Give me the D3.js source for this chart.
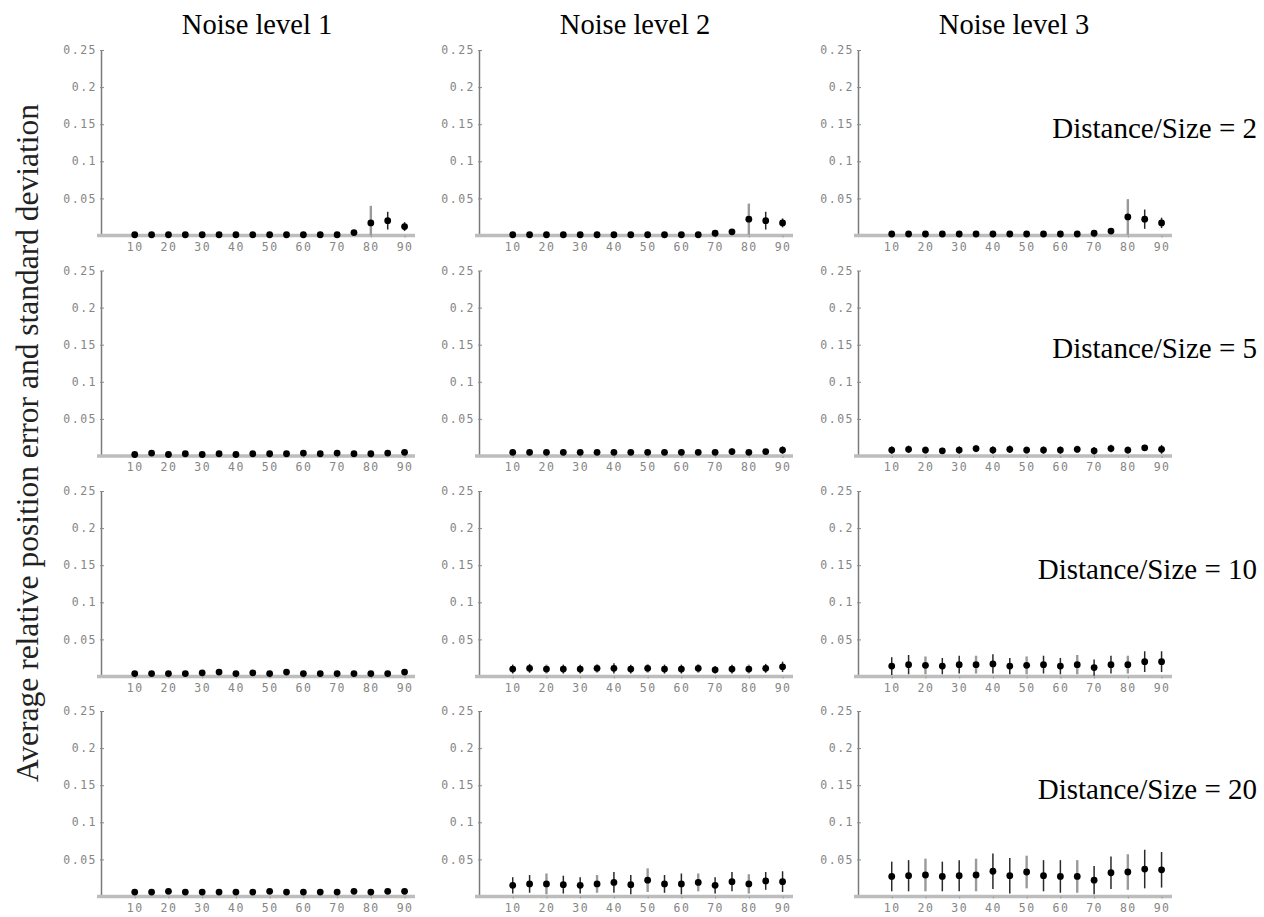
<!DOCTYPE html>
<html>
<head>
<meta charset="utf-8">
<script src="https://cdn.jsdelivr.net/npm/d3@7"></script>
<style>
  body { margin: 0; background: #fff; }
  .tick text { font-family: "DejaVu Sans Mono", monospace; fill: #858585; }
</style>
</head>
<body>
<div class="chart"></div>
<script>
// Chart labels
var noiseLabels = ["Noise level 1", "Noise level 2", "Noise level 3"];
var distLabels = ["Distance/Size = 2", "Distance/Size = 5", "Distance/Size = 10", "Distance/Size = 20"];
var yLabel = "Average relative position error and standard deviation";

// x positions of the points and tick values
var xValues = [10, 15, 20, 25, 30, 35, 40, 45, 50, 55, 60, 65, 70, 75, 80, 85, 90];
var xTicks = [10, 20, 30, 40, 50, 60, 70, 80, 90];
var yTicks = [0.05, 0.1, 0.15, 0.2, 0.25];

// Distance/Size = 2
var meanD2N1 = [0.001, 0.001, 0.001, 0.001, 0.001, 0.001, 0.001, 0.001, 0.001, 0.001, 0.001, 0.001, 0.001, 0.004, 0.017, 0.020, 0.012];
var stdD2N1  = [0.001, 0.001, 0.001, 0.001, 0.001, 0.001, 0.001, 0.001, 0.001, 0.001, 0.001, 0.001, 0.001, 0.003, 0.023, 0.012, 0.006];
var meanD2N2 = [0.001, 0.001, 0.001, 0.001, 0.001, 0.001, 0.001, 0.001, 0.001, 0.001, 0.001, 0.001, 0.003, 0.005, 0.022, 0.020, 0.017];
var stdD2N2  = [0.001, 0.001, 0.001, 0.001, 0.001, 0.001, 0.001, 0.001, 0.001, 0.001, 0.001, 0.001, 0.002, 0.003, 0.021, 0.012, 0.006];
var meanD2N3 = [0.002, 0.002, 0.002, 0.002, 0.002, 0.002, 0.002, 0.002, 0.002, 0.002, 0.002, 0.002, 0.003, 0.006, 0.025, 0.022, 0.017];
var stdD2N3  = [0.001, 0.001, 0.001, 0.001, 0.001, 0.001, 0.001, 0.001, 0.001, 0.001, 0.001, 0.001, 0.002, 0.004, 0.024, 0.013, 0.007];

// Distance/Size = 5
var meanD5N1 = [0.002, 0.004, 0.002, 0.003, 0.002, 0.003, 0.002, 0.003, 0.003, 0.003, 0.004, 0.003, 0.004, 0.003, 0.003, 0.004, 0.005];
var stdD5N1  = [0.002, 0.002, 0.002, 0.002, 0.002, 0.002, 0.002, 0.002, 0.002, 0.002, 0.002, 0.002, 0.002, 0.002, 0.002, 0.002, 0.002];
var meanD5N2 = [0.005, 0.005, 0.005, 0.005, 0.005, 0.005, 0.005, 0.005, 0.005, 0.005, 0.005, 0.005, 0.005, 0.006, 0.005, 0.006, 0.008];
var stdD5N2  = [0.003, 0.003, 0.003, 0.003, 0.003, 0.003, 0.003, 0.003, 0.003, 0.003, 0.003, 0.003, 0.003, 0.004, 0.003, 0.003, 0.005];
var meanD5N3 = [0.008, 0.009, 0.008, 0.007, 0.008, 0.010, 0.008, 0.009, 0.008, 0.008, 0.008, 0.009, 0.007, 0.010, 0.008, 0.011, 0.009];
var stdD5N3  = [0.005, 0.005, 0.005, 0.004, 0.005, 0.005, 0.005, 0.005, 0.005, 0.005, 0.005, 0.005, 0.005, 0.005, 0.005, 0.004, 0.006];

// Distance/Size = 10
var meanD10N1 = [0.004, 0.004, 0.004, 0.004, 0.005, 0.006, 0.004, 0.005, 0.004, 0.006, 0.004, 0.004, 0.004, 0.004, 0.004, 0.004, 0.006];
var stdD10N1  = [0.002, 0.002, 0.002, 0.002, 0.002, 0.002, 0.002, 0.002, 0.002, 0.002, 0.002, 0.002, 0.002, 0.002, 0.002, 0.002, 0.003];
var meanD10N2 = [0.010, 0.011, 0.010, 0.010, 0.010, 0.011, 0.011, 0.010, 0.011, 0.010, 0.010, 0.011, 0.009, 0.010, 0.010, 0.011, 0.013];
var stdD10N2  = [0.006, 0.006, 0.006, 0.006, 0.006, 0.006, 0.007, 0.006, 0.006, 0.006, 0.006, 0.006, 0.005, 0.006, 0.006, 0.006, 0.007];
var meanD10N3 = [0.014, 0.016, 0.015, 0.014, 0.016, 0.016, 0.017, 0.014, 0.015, 0.016, 0.014, 0.016, 0.012, 0.016, 0.016, 0.020, 0.020];
var stdD10N3  = [0.012, 0.013, 0.012, 0.011, 0.012, 0.012, 0.013, 0.011, 0.012, 0.012, 0.011, 0.013, 0.011, 0.012, 0.012, 0.014, 0.014];

// Distance/Size = 20
var meanD20N1 = [0.006, 0.006, 0.007, 0.006, 0.006, 0.006, 0.006, 0.006, 0.007, 0.006, 0.006, 0.006, 0.006, 0.007, 0.006, 0.007, 0.007];
var stdD20N1  = [0.003, 0.003, 0.003, 0.003, 0.003, 0.003, 0.003, 0.003, 0.003, 0.003, 0.003, 0.003, 0.003, 0.003, 0.003, 0.003, 0.003];
var meanD20N2 = [0.015, 0.017, 0.017, 0.016, 0.015, 0.017, 0.019, 0.016, 0.022, 0.017, 0.017, 0.019, 0.015, 0.020, 0.017, 0.021, 0.020];
var stdD20N2  = [0.011, 0.012, 0.014, 0.012, 0.011, 0.012, 0.014, 0.013, 0.016, 0.012, 0.014, 0.012, 0.011, 0.013, 0.013, 0.012, 0.014];
var meanD20N3 = [0.027, 0.028, 0.029, 0.027, 0.028, 0.029, 0.034, 0.028, 0.033, 0.028, 0.027, 0.027, 0.022, 0.032, 0.033, 0.037, 0.036];
var stdD20N3  = [0.020, 0.021, 0.022, 0.020, 0.021, 0.022, 0.024, 0.024, 0.022, 0.021, 0.022, 0.022, 0.019, 0.022, 0.024, 0.026, 0.024];

var panelMeans = [
  [meanD2N1, meanD2N2, meanD2N3],
  [meanD5N1, meanD5N2, meanD5N3],
  [meanD10N1, meanD10N2, meanD10N3],
  [meanD20N1, meanD20N2, meanD20N3]
];
var panelStds = [
  [stdD2N1, stdD2N2, stdD2N3],
  [stdD5N1, stdD5N2, stdD5N3],
  [stdD10N1, stdD10N2, stdD10N3],
  [stdD20N1, stdD20N2, stdD20N3]
];

// SVG area
var svgWidth = 1264;
var svgHeight = 917;

// panel geometry
var panelLeft = [101, 479, 858];
var panelBase = [235.5, 456, 676.5, 896.5];
var panelWidth = 312;
var panelHeight = 185.5;

var svg = d3.select(".chart")
  .append("svg")
  .attr("width", svgWidth)
  .attr("height", svgHeight);

var x = d3.scaleLinear().domain([0, 92.5]).range([0, panelWidth]);
var y = d3.scaleLinear().domain([0, 0.25]).range([panelHeight, 0]);

var bottomAxis = d3.axisBottom(x).tickValues(xTicks).tickSize(2).tickPadding(5);
var leftAxis = d3.axisLeft(y).tickValues(yTicks)
  .tickSizeInner(-3).tickSizeOuter(0).tickPadding(4)
  .tickFormat(d => String(d));

for (var r = 0; r < 4; r++) {
  for (var c = 0; c < 3; c++) {
    var g = svg.append("g")
      .attr("transform", `translate(${panelLeft[c]}, ${panelBase[r] - panelHeight})`);

    // y axis
    var ya = g.append("g").call(leftAxis);
    ya.select(".domain").attr("stroke", "#7a7a7a").attr("stroke-width", 1.5);
    ya.selectAll(".tick line").attr("stroke", "#8a8a8a").attr("x1", -1);
    ya.selectAll(".tick text").attr("font-size", 11.5).attr("letter-spacing", 1.5);

    // x axis
    var xa = g.append("g")
      .attr("transform", `translate(0, ${panelHeight})`)
      .call(bottomAxis);
    xa.select(".domain").remove();
    xa.insert("line", ":first-child")
      .attr("x1", -4).attr("x2", panelWidth + 2)
      .attr("stroke", "#bdbdbd").attr("stroke-width", 3.5);
    xa.selectAll(".tick line").attr("stroke", "#999");
    xa.selectAll(".tick text").attr("font-size", 11.5).attr("letter-spacing", 1.5).attr("fill", "#888");

    var pts = xValues.map((v, i) => ({ x: v, m: panelMeans[r][c][i], s: panelStds[r][c][i] }));

    // error bars
    g.selectAll(".err")
      .data(pts)
      .enter()
      .append("line")
      .attr("class", "err")
      .attr("x1", d => x(d.x))
      .attr("x2", d => x(d.x))
      .attr("y1", d => y(Math.max(0, d.m - d.s)))
      .attr("y2", d => y(d.m + d.s))
      .attr("stroke", (d, i) => i % 3 === 2 ? "#9a9a9a" : "#2a2a2a")
      .attr("stroke-width", (d, i) => i % 3 === 2 ? 2.4 : 1.5);

    // points
    g.selectAll(".pt")
      .data(pts)
      .enter()
      .append("circle")
      .attr("class", "pt")
      .attr("cx", d => x(d.x))
      .attr("cy", d => y(d.m))
      .attr("r", 3.4)
      .attr("fill", "#000");
  }
}

// column titles
svg.selectAll(".coltitle")
  .data(noiseLabels)
  .enter()
  .append("text")
  .attr("class", "coltitle")
  .attr("x", (d, i) => panelLeft[i] + panelWidth / 2)
  .attr("y", 34)
  .attr("text-anchor", "middle")
  .attr("font-family", "Liberation Serif, serif")
  .attr("font-size", 28.5)
  .text(d => d);

// row labels
svg.selectAll(".rowtitle")
  .data(distLabels)
  .enter()
  .append("text")
  .attr("class", "rowtitle")
  .attr("x", 1257)
  .attr("y", (d, i) => panelBase[i] - 98)
  .attr("text-anchor", "end")
  .attr("font-family", "Liberation Serif, serif")
  .attr("font-size", 29)
  .text(d => d);

// y axis title
svg.append("text")
  .attr("transform", "translate(38, 443) rotate(-90)")
  .attr("text-anchor", "middle")
  .attr("font-family", "Liberation Serif, serif")
  .attr("font-size", 31.5)
  .attr("fill", "#222")
  .text(yLabel);
</script>
</body>
</html>
